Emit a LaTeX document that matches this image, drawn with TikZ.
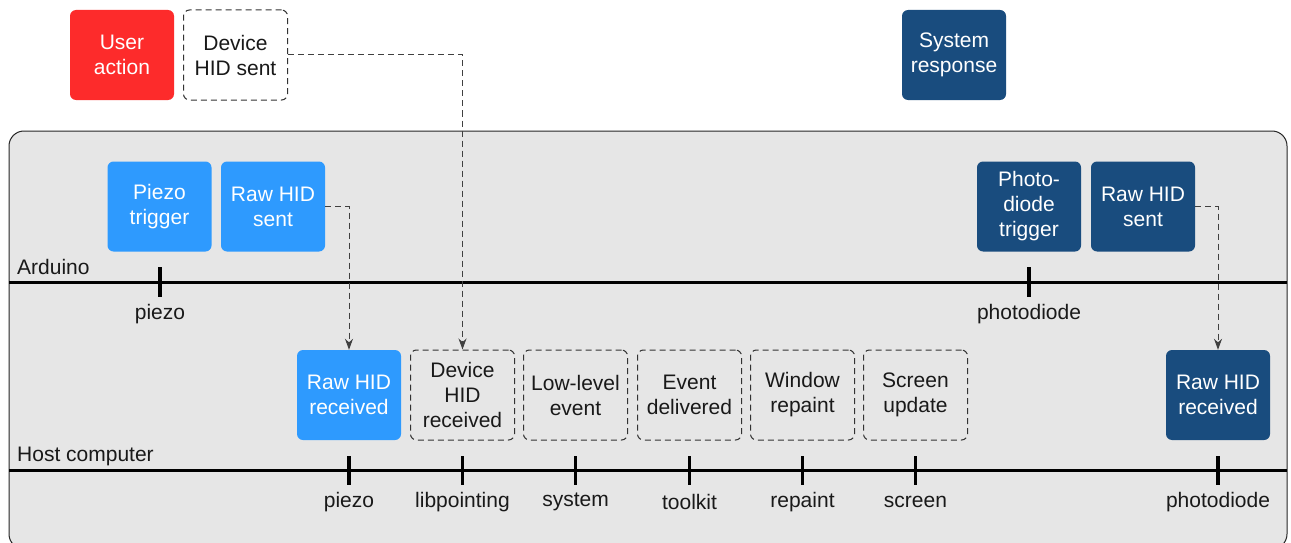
\documentclass[tikz,border=0pt]{standalone}
\usepackage{fontspec}
\setmainfont{Liberation Sans}
\usetikzlibrary{arrows.meta}
\definecolor{ured}{RGB}{253,43,43}
\definecolor{lblue}{RGB}{46,154,254}
\definecolor{dblue}{RGB}{25,76,126}
\definecolor{panelgray}{RGB}{230,230,230}
\definecolor{inkc}{RGB}{25,25,25}
\begin{document}
\begin{tikzpicture}[x=1pt,y=-1pt,
  font=\fontsize{21}{25}\selectfont,
  box/.style={rounded corners=6pt, minimum width=104pt, minimum height=90pt, align=center, inner sep=0pt, text=white},
  dbox/.style={box, draw=black!80, dash pattern=on 6pt off 4pt, line width=1pt, text=inkc},
  tickmark/.style={line width=3.5pt, draw=black},
  axisline/.style={line width=3pt, draw=black},
  conn/.style={draw=black!75, line width=1pt, dash pattern=on 6pt off 4pt, -{Stealth[length=11pt,width=8pt]}},
  lbl/.style={text=inkc, inner sep=0pt}
]
\useasboundingbox (0,0) rectangle (1291,543);
\fill[white] (0,0) rectangle (1291,543);

% top row
\node[box, fill=ured] (user) at (122,55) {User\\action};
\node[dbox] (devsent) at (235.5,55) {Device\\HID sent};
\node[box, fill=dblue] (sysresp) at (954,55) {System\\response};

% panel
\draw[fill=panelgray, draw=black!85, line width=1pt, rounded corners=15pt] (9,131) rectangle (1287,549);

% Arduino row
\node[box, fill=lblue] (piezotrig) at (159.5,206.5) {Piezo\\trigger};
\node[box, fill=lblue] (rawsentA) at (273,206.5) {Raw HID\\sent};
\node[box, fill=dblue] (phototrig) at (1029,206.5) {Photo-\\diode\\trigger};
\node[box, fill=dblue] (rawsentB) at (1143,206.5) {Raw HID\\sent};

\node[lbl, anchor=base west] (arduino) at (17,274) {Arduino};
\draw[axisline] (9,282) -- (1287,282);
\draw[tickmark] (160,267) -- (160,297);
\draw[tickmark] (1029,267) -- (1029,297);
\node[lbl] (tpiezo) at (160,314) {piezo};
\node[lbl] (tphoto) at (1029,314) {photodiode};

% Host row
\node[box, fill=lblue] (rawrecA) at (349,395) {Raw HID\\received};
\node[dbox] (devrec) at (462.5,395) {Device\\HID\\received};
\node[dbox] (lowlev) at (575.5,395) {Low-level\\event};
\node[dbox] (evdel) at (689.5,395) {Event\\delivered};
\node[dbox] (winrep) at (802.5,395) {Window\\repaint};
\node[dbox] (scrupd) at (915.5,395) {Screen\\update};
\node[box, fill=dblue] (rawrecB) at (1218,395) {Raw HID\\received};

\node[lbl, anchor=base west] (host) at (17,461) {Host computer};
\draw[axisline] (9,470) -- (1287,470);
\foreach \x in {349,462.5,575.5,689.5,802.5,915.5,1218}
  \draw[tickmark] (\x,456) -- (\x,485);
\node[lbl] (hpiezo) at (349,502) {piezo};
\node[lbl] (hlib) at (462.5,502) {libpointing};
\node[lbl] (hsys) at (575.5,502) {system};
\node[lbl] (htool) at (689.5,502) {toolkit};
\node[lbl] (hrep) at (802.5,502) {repaint};
\node[lbl] (hscr) at (915.5,502) {screen};
\node[lbl] (hphoto) at (1218,502) {photodiode};

% connectors
\draw[conn] (rawsentA.east) -| (rawrecA.north);
\draw[conn] (devsent.east) -| (devrec.north);
\draw[conn] (rawsentB.east) -| (rawrecB.north);
\end{tikzpicture}
\end{document}
